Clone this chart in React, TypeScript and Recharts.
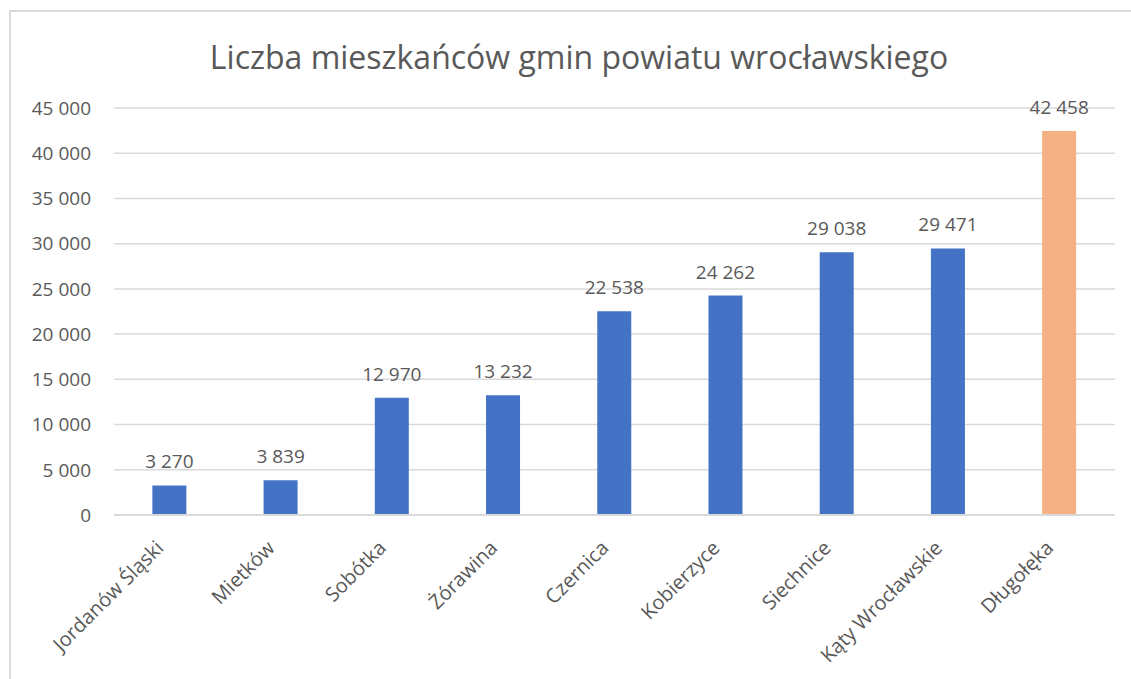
import React from 'react';
import { BarChart, Bar, XAxis, YAxis, CartesianGrid, Cell, LabelList } from 'recharts';

const gminy = [
  'Jordanów Śląski',
  'Mietków',
  'Sobótka',
  'Żórawina',
  'Czernica',
  'Kobierzyce',
  'Siechnice',
  'Kąty Wrocławskie',
  'Długołęka',
];
const mieszkancy = [3270, 3839, 12970, 13232, 22538, 24262, 29038, 29471, 42458];
const yTicks = [0, 5000, 10000, 15000, 20000, 25000, 30000, 35000, 40000, 45000];
const wyrozniona = 'Długołęka';

const data = gminy.map((name, i) => ({ name, value: mieszkancy[i] }));

// separator tysięcy jak w Excelu (twarda spacja, żeby etykieta się nie łamała)
const fmt = (v: number) => String(v).replace(/\B(?=(\d{3})+(?!\d))/g, '\u00A0');

const font = '"Open Sans", "DejaVu Sans", sans-serif';
const gray = '#595959';

// obrócone etykiety osi X
const RotatedTick = (props: any) => {
  const { x, y, payload } = props;
  return (
    <g transform={`translate(${x - 9},${y + 22})`}>
      <text
        transform="rotate(-45)"
        textAnchor="end"
        fill={gray}
        fontSize={20}
        fontFamily={font}
        dy={6}
      >
        {payload.value}
      </text>
    </g>
  );
};

export default function App() {
  return (
    <div
      style={{
        position: 'absolute',
        left: 9,
        top: 10,
        width: 1122,
        height: 669,
        borderLeft: '2px solid #D9D9D9',
        borderTop: '2px solid #D9D9D9',
        background: '#fff',
        overflow: 'hidden',
      }}
    >
      <div
        style={{
          position: 'absolute',
          left: 0,
          width: 1136,
          top: 25,
          textAlign: 'center',
          fontFamily: font,
          fontSize: 32,
          color: gray,
          lineHeight: '40px',
        }}
      >
        Liczba mieszkańców gmin powiatu wrocławskiego
      </div>
      <BarChart
        width={1120}
        height={667}
        data={data}
        margin={{ top: 96, right: 16, left: 13, bottom: 0 }}
        barCategoryGap="34.5%"
      >
        <CartesianGrid vertical={false} stroke="#D9D9D9" strokeWidth={1.5} />
        <XAxis
          dataKey="name"
          height={164}
          interval={0}
          tickLine={false}
          axisLine={{ stroke: '#D9D9D9', strokeWidth: 2 }}
          tick={<RotatedTick />}
        />
        <YAxis
          width={90}
          domain={[0, 45000]}
          ticks={yTicks}
          tickFormatter={fmt}
          tickLine={false}
          axisLine={false}
          tickSize={0}
          tickMargin={23}
          tick={{ fill: gray, fontSize: 19, fontFamily: font }}
        />
        <Bar dataKey="value" isAnimationActive={false}>
          {data.map((d) => (
            <Cell key={d.name} fill={d.name === wyrozniona ? '#F4B183' : '#4472C4'} />
          ))}
          <LabelList
            dataKey="value"
            position="top"
            offset={17}
            formatter={(v: any) => fmt(Number(v))}
            style={{ fill: gray, fontSize: 19, fontFamily: font }}
          />
        </Bar>
      </BarChart>
    </div>
  );
}
